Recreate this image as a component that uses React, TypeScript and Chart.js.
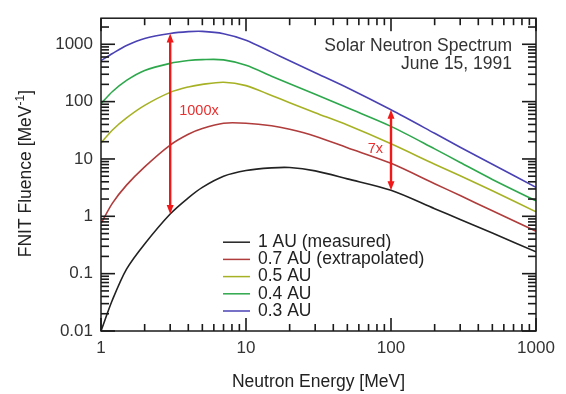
import React, { useEffect, useRef } from 'react';
import { Chart, registerables } from 'chart.js';

Chart.register(...registerables);

// Neutron energy [MeV]
const energies = [1, 1.2, 1.5, 2, 3, 4, 5, 7, 10, 15, 20, 30, 50, 100, 200, 300, 500, 1000];
// FNIT fluence [MeV^-1]
const au10 = [0.01, 0.035, 0.12, 0.33, 1.1, 2.1, 3.2, 5.0, 6.3, 7.0, 7.1, 6.2, 4.5, 2.85, 1.36, 0.88, 0.51, 0.24];
const au07 = [0.75, 1.7, 3.5, 7.3, 17.5, 27, 34, 42, 42, 38, 33, 25, 15.7, 8.4, 3.7, 2.3, 1.25, 0.55];
const au05 = [19, 32, 52, 86, 145, 180, 200, 218, 190, 128, 96, 64, 39, 18.4, 8.1, 5.1, 2.8, 1.2];
const au04 = [92, 150, 235, 350, 465, 520, 540, 535, 430, 278, 205, 135, 78, 37, 15, 8.7, 4.4, 1.86];
const au03 = [518, 690, 950, 1260, 1540, 1660, 1680, 1530, 1180, 730, 515, 320, 175, 72, 28, 16, 8.1, 3.2];

const seriesLabels = ['1 AU (measured)', '0.7 AU (extrapolated)', '0.5 AU', '0.4 AU', '0.3 AU'];
const seriesValues = [au10, au07, au05, au04, au03];
const seriesColors = ['#222222', '#b03c3c', '#a6b224', '#2ea84c', '#4a42b4'];

const xTickValues = [1, 10, 100, 1000];
const yTickValues = [0.01, 0.1, 1, 10, 100, 1000];
const xRange = [1, 1000];
const yRange = [0.01, 2850];
const minorMultipliers = [1, 2, 3, 4, 5, 6, 7, 8, 9];
const xDecades = [1, 10, 100, 1000];
const yDecades = [0.01, 0.1, 1, 10, 100, 1000];

const titleLines = ['Solar Neutron Spectrum', 'June 15, 1991'];
const xTitle = 'Neutron Energy [MeV]';
const yTitleMain = 'FNIT Fluence [MeV';
const yTitleSup = '-1';
const yTitleEnd = ']';

// ratio arrows between the 0.3 AU and 1 AU curves
const arrowEnergies = [3, 100];
const arrowLabels = ['1000x', '7x'];
const arrowLabelValues = [69, 15];

const FONT = '"Liberation Sans", Arial, sans-serif';
const TEXT = '#333333';
const AXIS = '#1a1a1a';

const ticksPlugin = {
  id: 'inwardTicks',
  afterDraw(chart: any) {
    const ctx = chart.ctx as CanvasRenderingContext2D;
    const area = chart.chartArea;
    const xs = chart.scales.x;
    const ys = chart.scales.y;
    ctx.save();
    ctx.fillStyle = AXIS;
    xDecades.forEach((d) => {
      minorMultipliers.forEach((m) => {
        const v = d * m;
        if (v < xRange[0] || v > xRange[1]) return;
        const px = xs.getPixelForValue(v);
        const len = m === 1 ? 13 : 7;
        ctx.fillRect(px - 0.8, area.bottom - len, 1.6, len);
        ctx.fillRect(px - 0.8, area.top, 1.6, len);
      });
    });
    yDecades.forEach((d) => {
      minorMultipliers.forEach((m) => {
        const v = d * m;
        if (v < yRange[0] || v > yRange[1]) return;
        const py = ys.getPixelForValue(v);
        const len = m === 1 ? 14 : 8;
        ctx.fillRect(area.left, py - 0.8, len, 1.6);
        ctx.fillRect(area.right - len, py - 0.8, len, 1.6);
      });
    });
    ctx.restore();
  },
};

const decorPlugin = {
  id: 'decor',
  afterDraw(chart: any) {
    const ctx = chart.ctx as CanvasRenderingContext2D;
    const { left, right, top, bottom } = chart.chartArea;
    const xs = chart.scales.x;
    const ys = chart.scales.y;
    ctx.save();

    ctx.strokeStyle = AXIS;
    ctx.lineWidth = 1.5;
    ctx.strokeRect(left, top, right - left, bottom - top);

    // ratio arrows
    const drawHead = (x: number, y: number, dir: number) => {
      ctx.beginPath();
      ctx.moveTo(x, y);
      ctx.lineTo(x - 3.5, y + dir * 9);
      ctx.lineTo(x + 3.5, y + dir * 9);
      ctx.closePath();
      ctx.fill();
    };
    arrowEnergies.forEach((e, i) => {
      const idx = energies.indexOf(e);
      const px = xs.getPixelForValue(e);
      const yTop = ys.getPixelForValue(au03[idx]);
      const yBot = ys.getPixelForValue(au10[idx]);
      ctx.strokeStyle = '#f01818';
      ctx.fillStyle = '#f01818';
      ctx.lineWidth = 2.4;
      ctx.beginPath();
      ctx.moveTo(px, yTop + 6);
      ctx.lineTo(px, yBot - 6);
      ctx.stroke();
      drawHead(px, yTop, 1);
      drawHead(px, yBot, -1);
      ctx.font = `14.5px ${FONT}`;
      ctx.textBaseline = 'middle';
      const ly = ys.getPixelForValue(arrowLabelValues[i]);
      ctx.fillStyle = '#e83030';
      if (i === 0) {
        ctx.textAlign = 'left';
        ctx.fillText(arrowLabels[i], px + 9, ly);
      } else {
        ctx.textAlign = 'right';
        ctx.fillText(arrowLabels[i], px - 8, ly);
      }
    });

    // title (top right inside plot)
    ctx.fillStyle = TEXT;
    ctx.font = `17.5px ${FONT}`;
    ctx.textAlign = 'right';
    ctx.textBaseline = 'middle';
    ctx.fillText(titleLines[0], right - 24, top + 28);
    ctx.fillText(titleLines[1], right - 24, top + 46);

    // legend
    const lx = left + 122;
    const ly0 = top + 224;
    seriesLabels.forEach((lab, i) => {
      const y = ly0 + i * 17.2;
      ctx.strokeStyle = seriesColors[i];
      ctx.lineWidth = 1.5;
      ctx.beginPath();
      ctx.moveTo(lx, y);
      ctx.lineTo(lx + 27, y);
      ctx.stroke();
      ctx.fillStyle = '#222222';
      ctx.textAlign = 'left';
      ctx.fillText(lab, lx + 35, y);
    });

    // x axis title
    ctx.fillStyle = '#222222';
    ctx.textAlign = 'center';
    ctx.font = `17.5px ${FONT}`;
    ctx.fillText(xTitle, (left + right) / 2, bottom + 51);

    // y axis title with superscript
    ctx.translate(26, (top + bottom) / 2 - 1);
    ctx.rotate(-Math.PI / 2);
    ctx.textAlign = 'left';
    ctx.font = `17.5px ${FONT}`;
    const w1 = ctx.measureText(yTitleMain).width;
    const w3 = ctx.measureText(yTitleEnd).width;
    ctx.font = `12px ${FONT}`;
    const w2 = ctx.measureText(yTitleSup).width;
    const total = w1 + w2 + w3;
    const x0 = -total / 2;
    ctx.font = `17.5px ${FONT}`;
    ctx.fillText(yTitleMain, x0, 0);
    ctx.font = `12px ${FONT}`;
    ctx.fillText(yTitleSup, x0 + w1, -5);
    ctx.font = `17.5px ${FONT}`;
    ctx.fillText(yTitleEnd, x0 + w1 + w2, 0);

    ctx.restore();
  },
};

export default function App() {
  const canvasRef = useRef<HTMLCanvasElement | null>(null);

  useEffect(() => {
    const canvas = canvasRef.current;
    if (!canvas) return;
    const chart = new Chart(canvas, {
      type: 'line',
      data: {
        datasets: seriesLabels.map((label, i) => ({
          label,
          data: energies.map((e, j) => ({ x: e, y: seriesValues[i][j] })),
          borderColor: seriesColors[i],
          backgroundColor: seriesColors[i],
          borderWidth: 1.6,
          pointRadius: 0,
          tension: 0.3,
          fill: false,
        })),
      },
      options: {
        responsive: false,
        animation: false,
        layout: { padding: { top: 8, right: 30, left: 0, bottom: 0 } },
        plugins: {
          legend: { display: false },
          tooltip: { enabled: false },
          title: { display: false },
        },
        scales: {
          x: {
            type: 'logarithmic',
            min: xRange[0],
            max: xRange[1],
            grid: { display: false, drawTicks: false },
            border: { display: false },
            afterBuildTicks: (s: any) => {
              s.ticks = xTickValues.map((v) => ({ value: v }));
            },
            afterFit: (s: any) => {
              s.height = 63;
            },
            ticks: {
              callback: (v: any) => String(v),
              color: TEXT,
              font: { family: FONT, size: 17 },
              padding: 7,
              maxRotation: 0,
              autoSkip: false,
            },
          },
          y: {
            type: 'logarithmic',
            min: yRange[0],
            max: yRange[1],
            grid: { display: false, drawTicks: false },
            border: { display: false },
            afterBuildTicks: (s: any) => {
              s.ticks = yTickValues.map((v) => ({ value: v }));
            },
            afterFit: (s: any) => {
              s.width = 101;
            },
            ticks: {
              callback: (v: any) => String(v),
              color: TEXT,
              font: { family: FONT, size: 17 },
              padding: 8,
              autoSkip: false,
            },
          },
        },
      } as any,
      plugins: [ticksPlugin, decorPlugin],
    });
    return () => chart.destroy();
  }, []);

  return (
    <div style={{ position: 'fixed', left: 0, top: 0, width: 566, height: 394, background: '#ffffff' }}>
      <canvas ref={canvasRef} width={566} height={394} style={{ width: 566, height: 394, display: 'block' }} />
    </div>
  );
}
